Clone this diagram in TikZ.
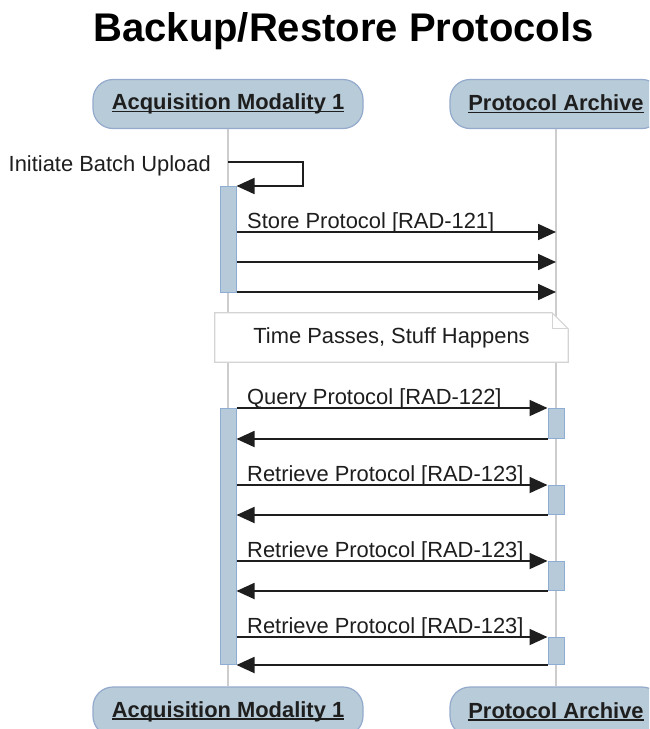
\documentclass[tikz,border=0pt]{standalone}
\usepackage{fontspec}
\setmainfont{Liberation Sans}
\usetikzlibrary{arrows.meta}
\definecolor{boxfill}{HTML}{B8CBD8}
\definecolor{boxline}{HTML}{93AACD}
\definecolor{barfill}{HTML}{B6CADA}
\definecolor{barline}{HTML}{8DAED2}
\definecolor{lifeln}{HTML}{CDCDCD}
\definecolor{txt}{HTML}{1E1E1E}
\definecolor{noteln}{HTML}{D4D4D4}
\newcommand\myul[1]{\setbox0\hbox{#1}\rlap{\rule[-2.6pt]{\wd0}{1.5pt}}\box0}
\begin{document}
\begin{tikzpicture}[x=1pt,y=-1pt,
 head/.style={draw=boxline, line width=1.2pt, fill=boxfill, rounded corners=20pt, minimum height=49pt, inner sep=0pt, font=\fontsize{21.9}{24}\selectfont\bfseries, text=txt},
 bar/.style={draw=barline, line width=1pt, fill=barfill, minimum width=16pt, inner sep=0pt, anchor=north},
 msg/.style={draw=txt, line width=1.8pt, -{Triangle[length=18pt,width=16pt]}},
 lbl/.style={font=\fontsize{21.9}{24}\selectfont, text=txt, inner sep=0pt},
 life/.style={draw=lifeln, line width=1.5pt},
 notebox/.style={minimum width=353pt, minimum height=49pt, inner sep=0pt}]
\useasboundingbox (0,0) rectangle (649,729);
\clip (0,0) rectangle (649,729);
\fill[white] (0,0) rectangle (649,729);
\node[font=\fontsize{40}{44}\selectfont\bfseries, text=black, anchor=base, inner sep=0pt] (title) at (343.5,41) {Backup/Restore Protocols};
% heads and feet
\node[head, minimum width=270pt] (am) at (228,104) {\myul{Acquisition Modality 1}};
\node[head, minimum width=212pt] (pa) at (556,104) {\myul{Protocol Archive}};
\node[head, minimum width=270pt] (amb) at (228,711.5) {\myul{Acquisition Modality 1}};
\node[head, minimum width=212pt] (pab) at (556,711.5) {\myul{Protocol Archive}};
% lifelines
\draw[life] (am.south) -- (amb.north);
\draw[life] (pa.south) -- (pab.north);
% self message
\node[bar, minimum height=106pt] (bar1) at (228,186) {};
\coordinate (self) at (228,162);
\draw[msg] (self) -- ++(75,0) -- ++(0,24) -- (bar1.north east);
\node[lbl, anchor=base east] (selflbl) at (211,171) {Initiate Batch Upload};
% store messages
\coordinate (s1) at (556,232);
\coordinate (s2) at (556,262);
\coordinate (s3) at (556,292);
\draw[msg] (s1 -| bar1.east) -- (s1);
\draw[msg] (s2 -| bar1.east) -- (s2);
\draw[msg] (s3 -| bar1.east) -- (s3);
\node[lbl, anchor=base west] (l1) at (247,228) {Store Protocol [RAD-121]};
% note
\node[notebox] (note) at (391.5,337.5) {};
\draw[draw=noteln, fill=white, line width=1.2pt] (note.north west) -- ([xshift=-16pt]note.north east) -- ([yshift=-16pt]note.north east) -- (note.south east) -- (note.south west) -- cycle;
\draw[draw=noteln, line width=1.2pt] ([xshift=-16pt]note.north east) -- ([xshift=-16pt,yshift=-16pt]note.north east) -- ([yshift=-16pt]note.north east);
\node[lbl] (notetext) at (note.center) {Time Passes, Stuff Happens};
% second activation
\node[bar, minimum height=256pt] (bar2) at (228,408) {};
\node[bar, minimum height=30pt] (pb1) at (556,408) {};
\node[bar, minimum height=29pt] (pb2) at (556,485) {};
\node[bar, minimum height=29pt] (pb3) at (556,561) {};
\node[bar, minimum height=27pt] (pb4) at (556,637) {};
\draw[msg] (pb1.north west -| bar2.east) -- (pb1.north west);
\draw[msg] (pb1.south west) -- (pb1.south west -| bar2.east);
\draw[msg] (pb2.north west -| bar2.east) -- (pb2.north west);
\draw[msg] (pb2.south west) -- (pb2.south west -| bar2.east);
\draw[msg] (pb3.north west -| bar2.east) -- (pb3.north west);
\draw[msg] (pb3.south west) -- (pb3.south west -| bar2.east);
\draw[msg] (pb4.north west -| bar2.east) -- (pb4.north west);
\draw[msg] (pb4.south west) -- (pb4.south west -| bar2.east);
\node[lbl, anchor=base west] (q1) at (247,404) {Query Protocol [RAD-122]};
\node[lbl, anchor=base west] (r1) at (247,481) {Retrieve Protocol [RAD-123]};
\node[lbl, anchor=base west] (r2) at (247,557) {Retrieve Protocol [RAD-123]};
\node[lbl, anchor=base west] (r3) at (247,633) {Retrieve Protocol [RAD-123]};
\end{tikzpicture}
\end{document}
